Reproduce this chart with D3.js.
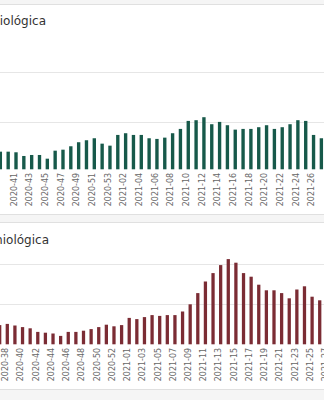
<!DOCTYPE html>
<html>
<head>
<meta charset="utf-8">
<script src="https://cdn.jsdelivr.net/npm/d3@7"></script>
<style>
  html, body { margin: 0; padding: 0; background: #f5f5f5; }
  svg { display: block; }
</style>
</head>
<body>
<div id="chart"></div>
<script>
// Weekly confirmed cases (top panel)
const casesWeeks = [
  "2020-39","2020-40","2020-41","2020-42","2020-43","2020-44","2020-45","2020-46","2020-47",
  "2020-48","2020-49","2020-50","2020-51","2020-52","2020-53",
  "2021-01","2021-02","2021-03","2021-04","2021-05","2021-06","2021-07","2021-08","2021-09",
  "2021-10","2021-11","2021-12","2021-13","2021-14","2021-15","2021-16","2021-17","2021-18",
  "2021-19","2021-20","2021-21","2021-22","2021-23","2021-24","2021-25","2021-26","2021-27"
];
const casesValues = [
  372, 372, 359, 281, 302, 302, 224, 393, 414,
  486, 571, 613, 655, 541, 499,
  725, 761, 725, 725, 655, 641, 668, 761, 852,
  1021, 1036, 1099, 951, 1000, 930, 837, 852, 852,
  888, 930, 852, 888, 951, 1036, 1021, 725, 655
];
const casesTickLabels = [
  "2020-41","2020-43","2020-45","2020-47","2020-49","2020-51","2020-53",
  "2021-02","2021-04","2021-06","2021-08","2021-10","2021-12","2021-14","2021-16",
  "2021-18","2021-20","2021-22","2021-24","2021-26"
];
const casesGrid = [1000];

// Weekly deaths (bottom panel)
const deathsWeeks = [
  "2020-37","2020-38","2020-39","2020-40","2020-41","2020-42","2020-43","2020-44","2020-45",
  "2020-46","2020-47","2020-48","2020-49","2020-50","2020-51","2020-52","2020-53",
  "2021-01","2021-02","2021-03","2021-04","2021-05","2021-06","2021-07","2021-08","2021-09",
  "2021-10","2021-11","2021-12","2021-13","2021-14","2021-15","2021-16","2021-17","2021-18",
  "2021-19","2021-20","2021-21","2021-22","2021-23","2021-24","2021-25","2021-26","2021-27"
];
const deathsValues = [
  48, 51, 47, 43, 40, 31, 29, 27, 21,
  31, 31, 34, 38, 43, 49, 45, 48,
  66, 63, 68, 73, 71, 73, 73, 82, 100,
  128, 157, 178, 198, 213, 204, 178, 169, 149,
  135, 135, 128, 115, 137, 145, 119, 110, 105
];
const deathsTickLabels = [
  "2020-38","2020-40","2020-42","2020-44","2020-46","2020-48","2020-50","2020-52",
  "2021-01","2021-03","2021-05","2021-07","2021-09","2021-11","2021-13","2021-15",
  "2021-17","2021-19","2021-21","2021-23","2021-25","2021-27"
];
const deathsGrid = [100];

const W = 324, H = 400;
const FONT = "'DejaVu Sans', Verdana, sans-serif";

const svg = d3.select("#chart").append("svg")
  .attr("width", W).attr("height", H);

svg.append("rect").attr("width", W).attr("height", H).attr("fill", "#f5f5f5");

function panel(cfg) {
  const g = svg.append("g");

  // card
  g.append("rect")
    .attr("x", -10).attr("y", cfg.cardTop)
    .attr("width", W + 20).attr("height", cfg.cardBottom - cfg.cardTop)
    .attr("fill", "#ffffff").attr("stroke", "#e0e0e0").attr("stroke-width", 1);

  // title
  g.append("text")
    .attr("x", cfg.titleX).attr("y", cfg.titleY)
    .attr("text-anchor", "end")
    .attr("font-family", FONT).attr("font-size", 12)
    .attr("fill", "#333")
    .text(cfg.title);

  // header divider
  g.append("line")
    .attr("x1", 0).attr("x2", W)
    .attr("y1", cfg.headerLine).attr("y2", cfg.headerLine)
    .attr("stroke", "#e6e6e6").attr("stroke-width", 1);

  const x = d3.scaleBand()
    .domain(cfg.weeks)
    .range(cfg.xRange)
    .paddingInner(0.57)
    .paddingOuter(0.285);

  const y = d3.scaleLinear()
    .domain(cfg.yDomain)
    .range(cfg.yRange);

  // grid lines
  g.selectAll("line.grid")
    .data(cfg.grid)
    .join("line")
    .attr("class", "grid")
    .attr("x1", 0).attr("x2", W)
    .attr("y1", d => Math.round(y(d)) + 0.5)
    .attr("y2", d => Math.round(y(d)) + 0.5)
    .attr("stroke", "#e6e6e6").attr("stroke-width", 1);

  // bars
  g.selectAll("rect.bar")
    .data(cfg.weeks.map((w, i) => ({ w, v: cfg.values[i] })))
    .join("rect")
    .attr("class", "bar")
    .attr("x", d => x(d.w))
    .attr("width", x.bandwidth())
    .attr("y", d => y(d.v))
    .attr("height", d => y(0) - y(d.v))
    .attr("fill", cfg.color);

  // x axis labels
  const axis = d3.axisBottom(x)
    .tickValues(cfg.ticks)
    .tickSize(0)
    .tickPadding(0);

  const ax = g.append("g")
    .attr("transform", `translate(0,${y(0)})`)
    .call(axis);
  ax.select(".domain").remove();
  ax.selectAll("text")
    .attr("font-family", FONT)
    .attr("font-size", 8)
    .attr("fill", "#666")
    .attr("text-anchor", "end")
    .attr("x", -3.5)
    .attr("y", 0)
    .attr("dy", "0.1em")
    .attr("transform", "rotate(-90)");
}

panel({
  cardTop: 4.5, cardBottom: 214.5,
  title: "Casos confirmados por semana epidemiológica",
  titleX: 46, titleY: 25,
  headerLine: 72.5,
  weeks: casesWeeks, values: casesValues, ticks: casesTickLabels,
  xRange: [-3.57, 325.29],
  yDomain: [0, 1000], yRange: [169.3, 121.9],
  grid: casesGrid,
  color: "#17594a"
});

panel({
  cardTop: 222.5, cardBottom: 389.5,
  title: "Defunciones por semana epidemiológica",
  titleX: 49, titleY: 243.5,
  headerLine: 264.5,
  weeks: deathsWeeks, values: deathsValues, ticks: deathsTickLabels,
  xRange: [-4.13, 331.15],
  yDomain: [0, 100], yRange: [344.3, 304.3],
  grid: deathsGrid,
  color: "#7b2c34"
});
</script>
</body>
</html>
